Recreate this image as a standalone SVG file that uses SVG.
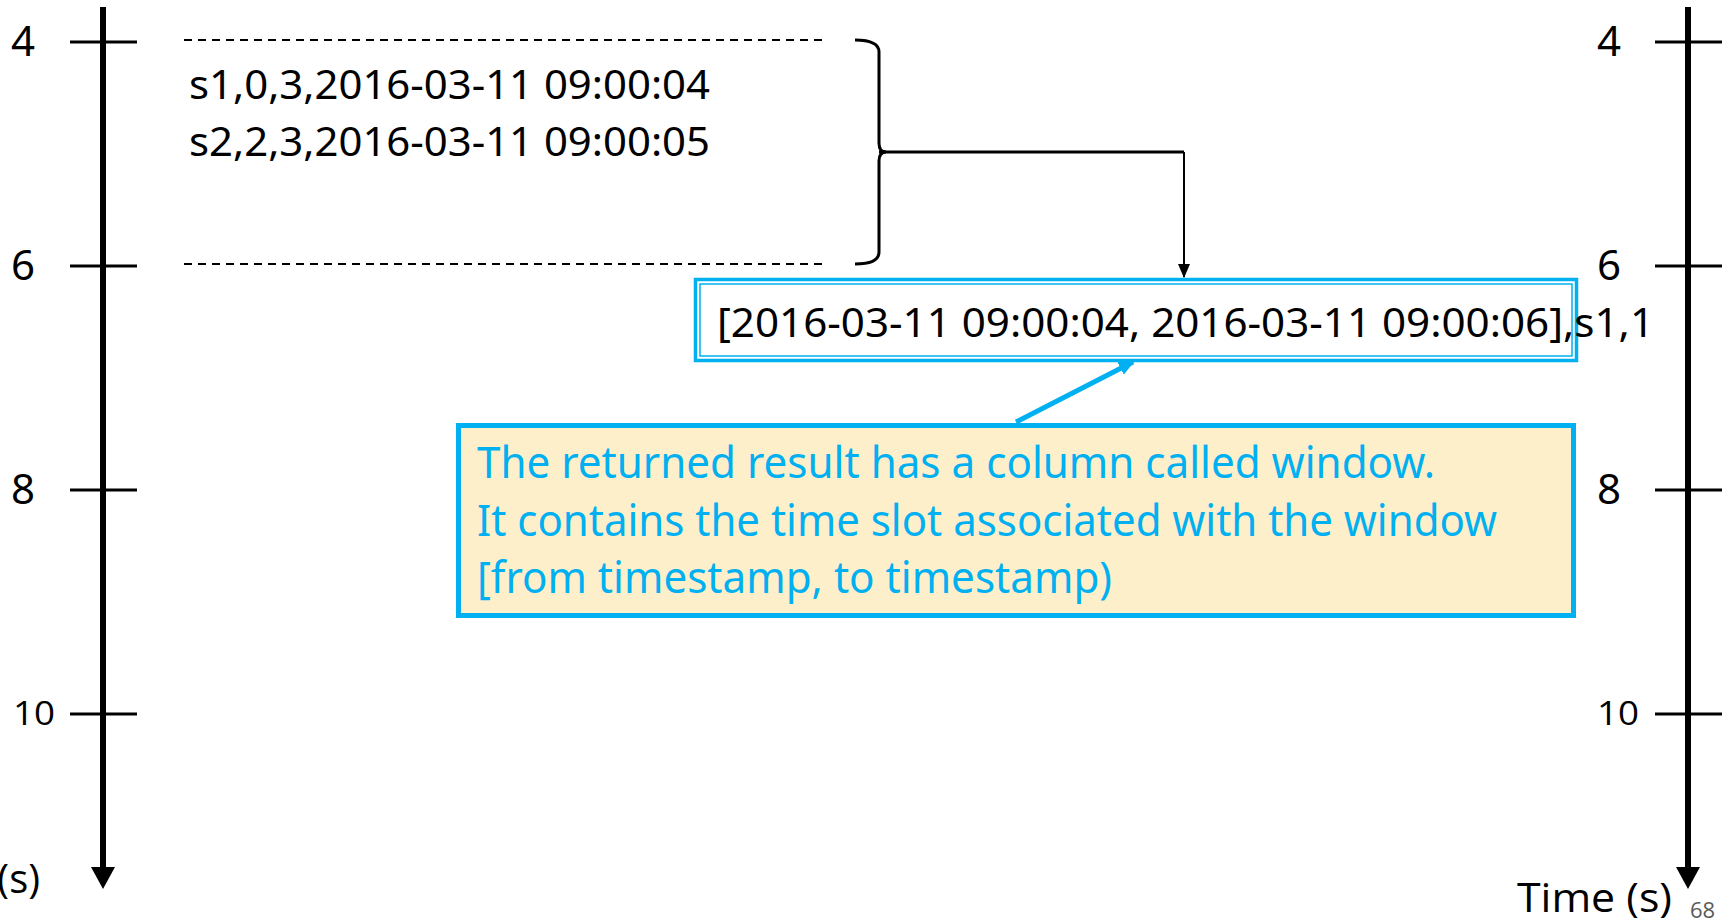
<svg xmlns="http://www.w3.org/2000/svg" width="1736" height="922" viewBox="0 0 1736 922">
<style>
.axis{stroke:#000;stroke-width:6;fill:none}
.tick{stroke:#000;stroke-width:3;fill:none}
.dash{stroke:#000;stroke-width:2;stroke-dasharray:8 6;fill:none}
.lbl{font-family:"Noto Sans","Open Sans",sans-serif;font-size:42px;fill:#000}
.lbl2{font-family:"Open Sans","Noto Sans",sans-serif;font-size:32px;fill:#000}
.data{font-family:"Noto Sans","Open Sans",sans-serif;font-size:40px;fill:#000}
.call{font-family:"Noto Sans","Open Sans",sans-serif;font-size:43px;fill:#00B0F0}
.blue{stroke:#00B0F0;fill:none}
</style>
<defs>
<marker id="ah" markerWidth="14" markerHeight="12" refX="13" refY="6" orient="auto" markerUnits="userSpaceOnUse">
<path d="M0,0 L14,6 L0,12 Z" fill="#000"/>
</marker>
<marker id="bh" markerWidth="16" markerHeight="14" refX="14" refY="7" orient="auto" markerUnits="userSpaceOnUse">
<path d="M0,0 L16,7 L0,14 Z" fill="#00B0F0"/>
</marker>
</defs>

<g id="left-axis">
<line class="axis" x1="103" y1="7" x2="103" y2="870"/>
<polygon points="91,867 115,867 103,889" fill="#000"/>
<line class="tick" x1="70" y1="42" x2="137" y2="42"/>
<line class="tick" x1="70" y1="266" x2="137" y2="266"/>
<line class="tick" x1="70" y1="490" x2="137" y2="490"/>
<line class="tick" x1="70" y1="714" x2="137" y2="714"/>
<text class="lbl" x="11" y="56">4</text>
<text class="lbl" x="11" y="280">6</text>
<text class="lbl" x="11" y="504">8</text>
<text class="lbl2" x="13" y="725" textLength="42" lengthAdjust="spacingAndGlyphs">10</text>
<text x="40" y="893" text-anchor="end" style="font-family:'Open Sans','Noto Sans',sans-serif;font-size:40px;fill:#000">Time (s)</text>
</g>

<g id="right-axis">
<line class="axis" x1="1688" y1="7" x2="1688" y2="870"/>
<polygon points="1676,867 1700,867 1688,889" fill="#000"/>
<line class="tick" x1="1655" y1="42" x2="1722" y2="42"/>
<line class="tick" x1="1655" y1="266" x2="1722" y2="266"/>
<line class="tick" x1="1655" y1="490" x2="1722" y2="490"/>
<line class="tick" x1="1655" y1="714" x2="1722" y2="714"/>
<text class="lbl" x="1597" y="56">4</text>
<text class="lbl" x="1597" y="280">6</text>
<text class="lbl" x="1597" y="504">8</text>
<text class="lbl2" x="1597" y="725" textLength="42" lengthAdjust="spacingAndGlyphs">10</text>
<text x="1517" y="912" textLength="155" lengthAdjust="spacingAndGlyphs" style="font-family:'Open Sans','Noto Sans',sans-serif;font-size:40px;fill:#000">Time (s)</text>
<text x="1690" y="918" style="font-family:'Open Sans','Noto Sans',sans-serif;font-size:22px;fill:#595959">68</text>
</g>

<g id="window-4-6">
<line class="dash" x1="184" y1="40" x2="824" y2="40"/>
<line class="dash" x1="184" y1="264" x2="824" y2="264"/>
<text class="data" x="189" y="99" textLength="521" lengthAdjust="spacingAndGlyphs">s1,0,3,2016-03-11 09:00:04</text>
<text class="data" x="189" y="156" textLength="521" lengthAdjust="spacingAndGlyphs">s2,2,3,2016-03-11 09:00:05</text>
<path d="M855,40 Q879,40 879,52 L879,143 Q879,152 886,152 Q879,152 879,161 L879,252 Q879,264 855,264" stroke="#000" stroke-width="3" fill="none"/>
</g>

<g id="result">
<rect class="blue" x="695.5" y="279.5" width="881" height="81" stroke-width="3.5"/>
<rect class="blue" x="700" y="284" width="872" height="72" stroke-width="1.5"/>
<text class="data" x="717" y="337" textLength="937" lengthAdjust="spacingAndGlyphs">[2016-03-11 09:00:04, 2016-03-11 09:00:06],s1,1</text>
</g>

<g id="callout">
<rect x="458.5" y="425.5" width="1115" height="190" fill="#FEEFCB" stroke="#00B0F0" stroke-width="5"/>
<text class="call" x="477" y="478" textLength="958" lengthAdjust="spacingAndGlyphs">The returned result has a column called  window.</text>
<text class="call" x="477" y="536" textLength="1020" lengthAdjust="spacingAndGlyphs">It contains the time slot associated with the window</text>
<text class="call" x="477" y="593" textLength="635" lengthAdjust="spacingAndGlyphs">[from timestamp, to timestamp)</text>
</g>

<g id="connectors">
<line x1="879" y1="152" x2="1184" y2="152" stroke="#000" stroke-width="3"/>
<line x1="1184" y1="152" x2="1184" y2="277" stroke="#000" stroke-width="2" marker-end="url(#ah)"/>
<line x1="1016" y1="422" x2="1133" y2="362" stroke="#00B0F0" stroke-width="5" marker-end="url(#bh)"/>
</g>
</svg>
